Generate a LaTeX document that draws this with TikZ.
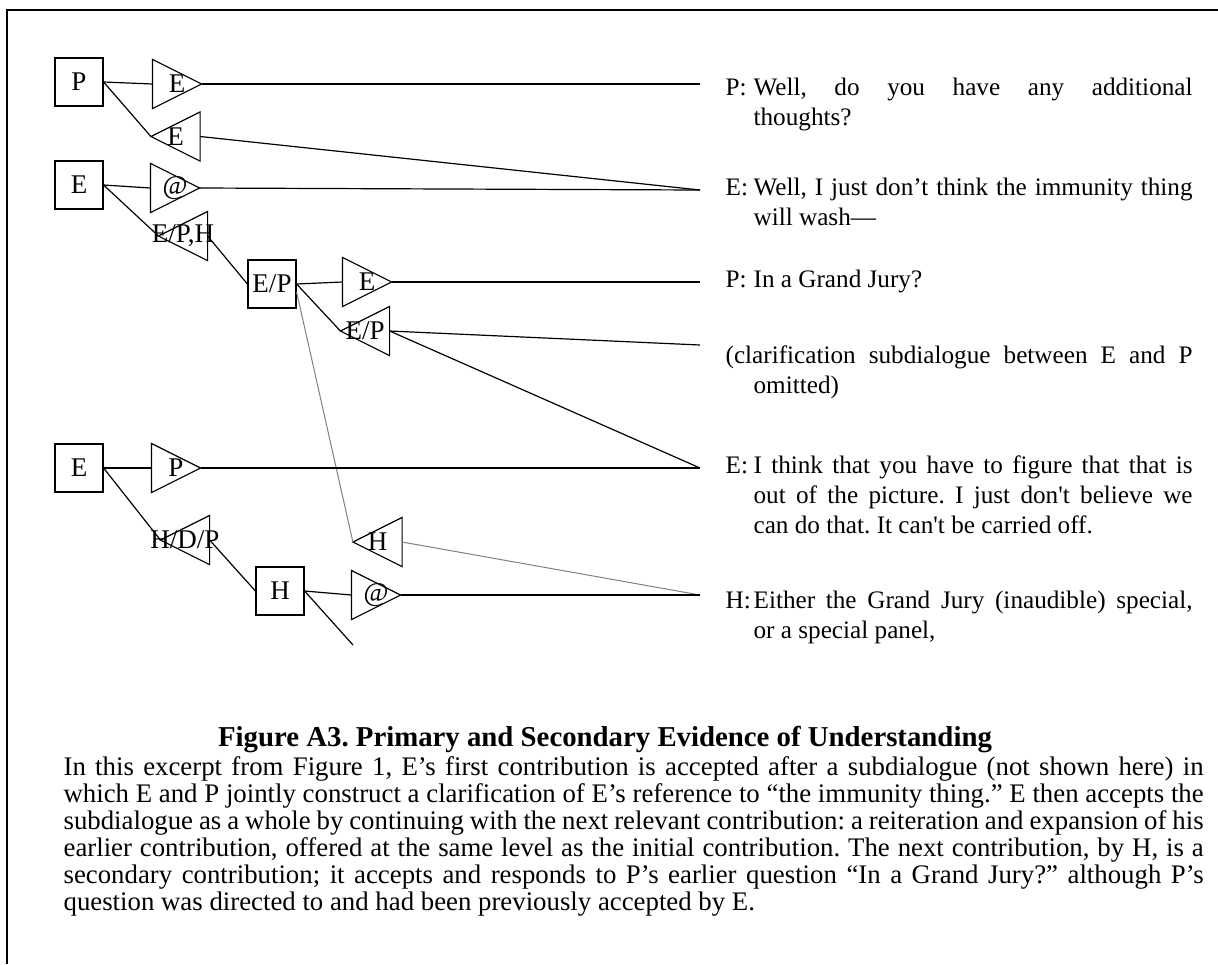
\documentclass[tikz,border=0pt]{standalone}
\usepackage{fontspec}
\setmainfont{Liberation Serif}
\usepackage{tikz}
\frenchspacing

\begin{document}
\begin{tikzpicture}[
    x=0.5pt, y=-0.5pt,
    line width=0.6pt,
    party/.style={draw, minimum size=24pt, inner sep=0pt, font=\fontsize{13.5}{15}\selectfont},
    ack/.style={minimum size=24pt, inner sep=0pt, font=\fontsize{13.5}{15}\selectfont,
        append after command={\pgfextra{\draw (\tikzlastnode.north west) -- (\tikzlastnode.east) -- (\tikzlastnode.south west) -- cycle;}}},
    back/.style={minimum size=24pt, inner sep=0pt, font=\fontsize{13.5}{15}\selectfont,
        append after command={\pgfextra{\draw (\tikzlastnode.north east) -- (\tikzlastnode.west) -- (\tikzlastnode.south east) -- cycle;}}},
    utter/.style={anchor=base west, inner sep=0pt, text width=233.5pt, align=justify, font=\fontsize{12.6}{15}\selectfont},
    link/.style={gray, line width=0.5pt}
]
    \useasboundingbox (0,0) rectangle (1218,964);
    \draw[line width=0.7pt] (7,964) -- (7,10) -- (1218,10);

    % contributions
    \node[party] (bP) at (79,82) {P};
    \node[party] (bE1) at (79,185) {E};
    \node[party] (bEP) at (272,284) {E/P};
    \node[party] (bE2) at (79,468) {E};
    \node[party] (bH) at (280,591) {H};

    % acceptance triangles
    \node[ack] (tE1) at (177,84) {E};
    \node[back] (tE2) at (175.5,136.5) {E};
    \node[ack] (tAt1) at (175,188) {@};
    \node[back] (tEPH) at (183,236) {\makebox[0pt]{E/P,H}};
    \node[ack] (tE3) at (367,282) {E};
    \node[back] (tEP) at (365,331) {\makebox[0pt]{E/P}};
    \node[back] (tH) at (377.5,542) {H};
    \node[ack] (tP) at (176,468) {P};
    \node[back] (tHDP) at (185,540) {\makebox[0pt]{H/D/P}};
    \node[ack] (tAt2) at (376,595) {@};

    \coordinate (endP1) at (700,84);
    \coordinate (endE1) at (700,190);
    \coordinate (endP2) at (700,282);
    \coordinate (endC) at (700,345);
    \coordinate (endE2) at (700,468);
    \coordinate (endH) at (700,595);
    \coordinate (stub) at (353,645);

    \draw (bP.east) -- (tE1.west);
    \draw (tE1.east) -- (endP1);
    \draw (bP.east) -- (tE2.west);
    \draw (tE2.east) -- (endE1);
    \draw (bE1.east) -- (tAt1.west);
    \draw (tAt1.east) -- (endE1);
    \draw (bE1.east) -- (tEPH.west);
    \draw (tEPH.east) -- (bEP.west);
    \draw (bEP.east) -- (tE3.west);
    \draw (tE3.east) -- (endP2);
    \draw (bEP.east) -- (tEP.west);
    \draw (tEP.east) -- (endC);
    \draw (tEP.east) -- (endE2);
    \draw[link] ([yshift=-4pt]bEP.east) -- (tH.west);
    \draw[link] (tH.east) -- (endH);
    \draw (bE2.east) -- (tP.west);
    \draw (tP.east) -- (endE2);
    \draw (bE2.east) -- (tHDP.west);
    \draw (tHDP.east) -- (bH.west);
    \draw (bH.east) -- (tAt2.west);
    \draw (tAt2.east) -- (endH);
    \draw (bH.east) -- (stub);

    % utterances
    \node[utter] (uP1) at (725,95) {\hangindent=14pt\hangafter=1\makebox[14pt][l]{P:}Well, do you have any additional\linebreak thoughts?\par};
    \node[utter] (uE1) at (725,195) {\hangindent=14pt\hangafter=1\makebox[14pt][l]{E:}Well, I just don't think the immunity thing\linebreak will wash---\par};
    \node[utter] (uP2) at (725,287) {\hangindent=14pt\hangafter=1\makebox[14pt][l]{P:}In a Grand Jury?\par};
    \node[utter] (uC) at (725,363) {\hangindent=14pt\hangafter=1(clarification subdialogue between E and P\linebreak omitted)\par};
    \node[utter] (uE2) at (725,473) {\hangindent=14pt\hangafter=1\makebox[14pt][l]{E:}I think that you have to figure that that is\linebreak out of the picture. I just don\textquotesingle t believe we\linebreak can do that. It can\textquotesingle t be carried off.\par};
    \node[utter] (uH) at (725,608) {\hangindent=14pt\hangafter=1\makebox[14pt][l]{H:}Either the Grand Jury (inaudible) special,\linebreak or a special panel,\par};

    % caption
    \node[anchor=base, inner sep=0pt, font=\fontsize{14.4}{16}\selectfont\bfseries] (title) at (605,746) {Figure A3. Primary and Secondary Evidence of Understanding};
    \node[anchor=base west, inner sep=0pt, text width=570pt, align=justify, font=\fontsize{13.4}{13.5}\selectfont] (note) at (63,775) {In this excerpt from Figure 1, E's first contribution is accepted after a subdialogue (not shown here) in\linebreak which E and P jointly construct a clarification of E's reference to ``the immunity thing.'' E then accepts the\linebreak subdialogue as a whole by continuing with the next relevant contribution: a reiteration and expansion of his\linebreak earlier contribution, offered at the same level as the initial contribution. The next contribution, by H, is a\linebreak secondary contribution; it accepts and responds to P's earlier question ``In a Grand Jury?'' although P's\linebreak question was directed to and had been previously accepted by E.};
\end{tikzpicture}
\end{document}
